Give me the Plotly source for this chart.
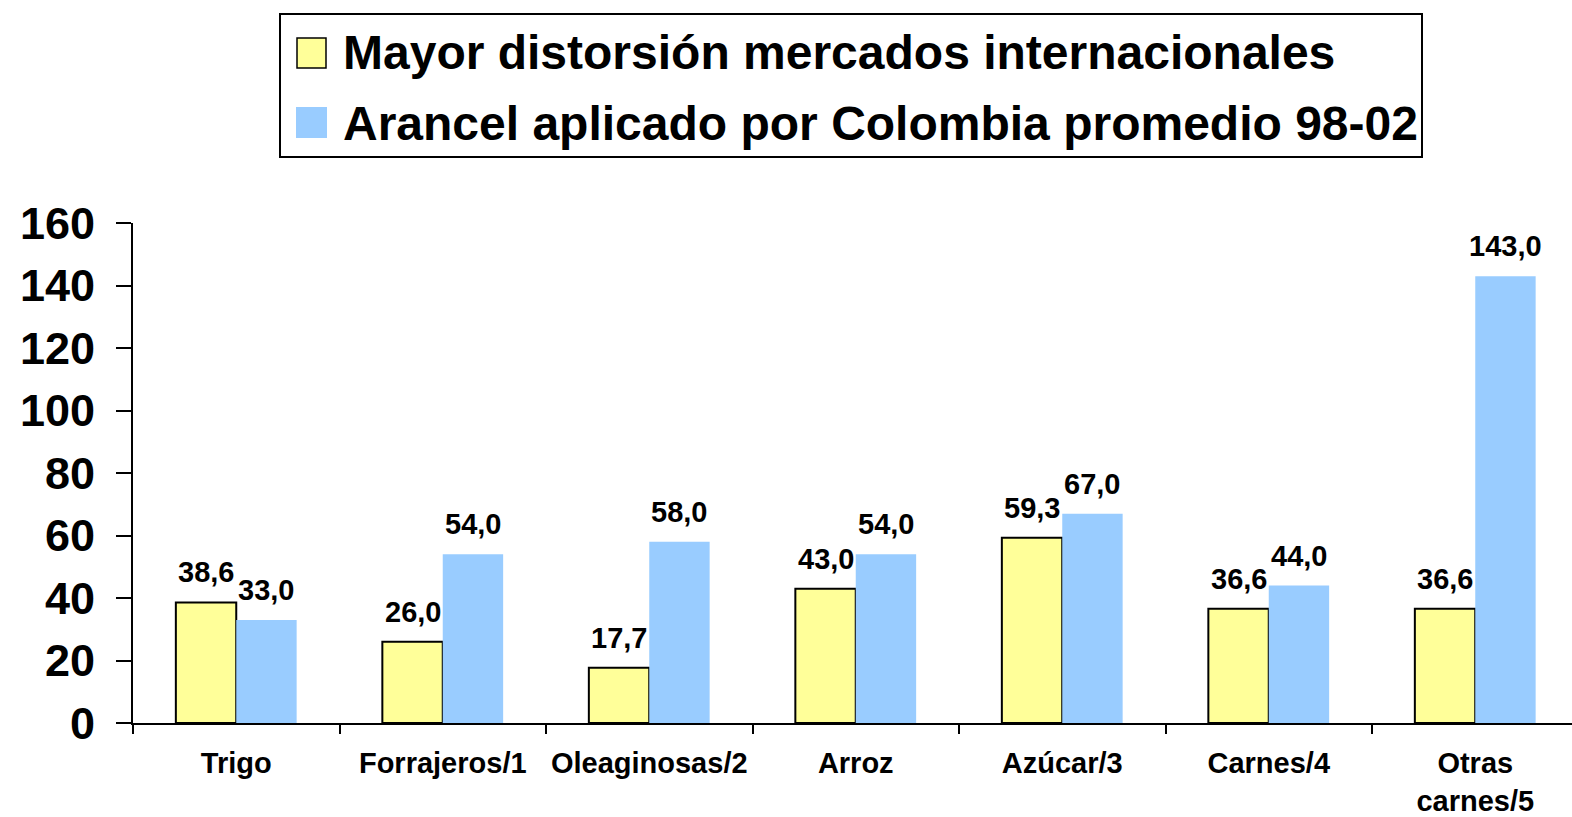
import plotly.graph_objects as go

# Data
categorias = ["Trigo", "Forrajeros/1", "Oleaginosas/2", "Arroz", "Azúcar/3", "Carnes/4", "Otras<br>carnes/5"]
distorsion = [38.6, 26.0, 17.7, 43.0, 59.3, 36.6, 36.6]
arancel = [33.0, 54.0, 58.0, 54.0, 67.0, 44.0, 143.0]
series = ["Mayor distorsión mercados internacionales",
          "Arancel aplicado por Colombia promedio 98-02"]
y_ticks = [0, 20, 40, 60, 80, 100, 120, 140, 160]

# Page geometry
W, H = 1572, 817
L, R, T, B = 133, 0, 223, 94
CAT_PX = 206.5          # width of one category slot in pixels
FONT = "Arial, Liberation Sans, sans-serif"
AMARILLO = "#FFFF99"
AZUL = "#99CCFF"
BARGAP = 0.415


def px_x(px):
    return (px - L) / (W - L - R)


def px_y(py):
    return (H - B - py) / (H - T - B)


def fmt(v):
    return f"{v:.1f}".replace(".", ",")


def bold(size):
    return dict(family=FONT, size=size, color="black", weight="bold")


fig = go.Figure()
fig.add_trace(go.Bar(
    x=categorias, y=distorsion, name=series[0],
    marker=dict(color=AMARILLO, line=dict(color="black", width=2)),
    showlegend=False,
))
fig.add_trace(go.Bar(
    x=categorias, y=arancel, name=series[1],
    marker=dict(color=AZUL, line=dict(width=0)),
    showlegend=False,
))

# Value labels above each bar
half = (1 - BARGAP) / 4
annotations = []
for i, (a, b) in enumerate(zip(distorsion, arancel)):
    for xc, v in ((i - half, a), (i + half, b)):
        annotations.append(dict(
            x=xc, y=v, xref="x", yref="y", text=fmt(v), showarrow=False,
            xanchor="center", yanchor="bottom", yshift=12,
            font=bold(29),
        ))

# Boxed legend with large swatches
shapes = [
    dict(type="rect", xref="paper", yref="paper",
         x0=px_x(280), x1=px_x(1422), y0=px_y(157), y1=px_y(14),
         line=dict(color="black", width=2), fillcolor="white", layer="below"),
    dict(type="rect", xref="paper", yref="paper",
         x0=px_x(297), x1=px_x(326), y0=px_y(68), y1=px_y(38),
         line=dict(color="black", width=1.5), fillcolor=AMARILLO),
    dict(type="rect", xref="paper", yref="paper",
         x0=px_x(296), x1=px_x(327), y0=px_y(138), y1=px_y(107),
         line=dict(width=0), fillcolor=AZUL),
]
for name, ypx in zip(series, (53, 123)):
    annotations.append(dict(
        x=px_x(341), y=px_y(ypx), xref="paper", yref="paper", text=name,
        showarrow=False, xanchor="left", yanchor="middle",
        font=bold(48),
    ))

x_span = (W - L - R) / CAT_PX

fig.update_layout(
    width=W, height=H,
    margin=dict(l=L, r=R, t=T, b=B, pad=0, autoexpand=False),
    paper_bgcolor="white", plot_bgcolor="white",
    barmode="group", bargap=BARGAP, bargroupgap=0,
    font=dict(family=FONT, color="black"),
    shapes=shapes, annotations=annotations,
    xaxis=dict(
        type="category", range=[-0.5, -0.5 + x_span],
        tickson="boundaries", ticks="outside", ticklen=9,
        tickwidth=2, tickcolor="black", showline=True, linecolor="black",
        linewidth=2, showgrid=False, zeroline=False, automargin=False,
        tickangle=0, tickfont=bold(29), ticklabelstandoff=13,
    ),
    yaxis=dict(
        range=[0, 160], tickvals=y_ticks, ticks="outside", ticklen=15,
        tickwidth=2, tickcolor="black", showline=True, linecolor="black",
        linewidth=2, showgrid=False, zeroline=False, automargin=False,
        tickfont=bold(45), ticklabelstandoff=12,
    ),
)

fig.write_html("out.html")
